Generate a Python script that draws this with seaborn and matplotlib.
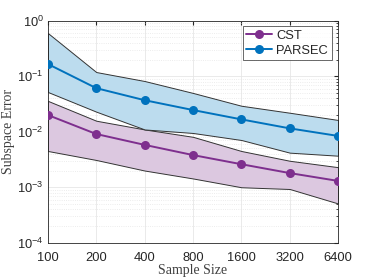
import matplotlib
matplotlib.use("Agg")
import matplotlib.pyplot as plt
import matplotlib.ticker as mticker
import seaborn as sns
import pandas as pd

# sample sizes
sizes = [100, 200, 400, 800, 1600, 3200, 6400]

# CST
cst_mean = [0.020, 0.0091, 0.0058, 0.0038, 0.0026, 0.0018, 0.0013]
cst_upper = [0.036, 0.0158, 0.011, 0.0081, 0.0045, 0.0030, 0.0023]
cst_lower = [0.0045, 0.0031, 0.0020, 0.00144, 0.0010, 0.00093, 0.00051]

# PARSEC
parsec_mean = [0.166, 0.061, 0.037, 0.0246, 0.0167, 0.0115, 0.0084]
parsec_upper = [0.60, 0.119, 0.082, 0.050, 0.0294, 0.022, 0.0163]
parsec_lower = [0.052, 0.023, 0.011, 0.0095, 0.0071, 0.0042, 0.0037]

xticklabels = ["100", "200", "400", "800", "1600", "3200", "6400"]

sns.set_style("white")
plt.rcParams["font.family"] = ["Liberation Sans", "DejaVu Sans"]
plt.rcParams["mathtext.fontset"] = "custom"
plt.rcParams["mathtext.rm"] = "Liberation Sans"

df = pd.DataFrame({
    "size": sizes * 2,
    "err": cst_mean + parsec_mean,
    "method": ["CST"] * 7 + ["PARSEC"] * 7,
})

purple = "#7E2F8E"
blue = "#0072BD"

fig = plt.figure(figsize=(3.74, 2.80), dpi=100)
ax = fig.add_axes([0.128, 0.133, 0.776, 0.793])

ax.set_xscale("log", base=2)
ax.set_yscale("log")

ax.fill_between(sizes, cst_lower, cst_upper, facecolor="#dcc8e0", edgecolor="#333333", linewidth=0.7, zorder=1)
ax.fill_between(sizes, parsec_lower, parsec_upper, facecolor="#bcdcee", edgecolor="#333333", linewidth=0.7, zorder=1)

sns.lineplot(data=df, x="size", y="err", hue="method", palette=[purple, blue],
             marker="o", markersize=6.5, markeredgewidth=0, linewidth=1.4, ax=ax, zorder=3)

ax.set_xlim(100, 6400)
ax.set_ylim(1e-4, 1)
ax.xaxis.set_major_locator(mticker.FixedLocator(sizes))
ax.xaxis.set_minor_locator(mticker.NullLocator())
ax.set_xticklabels(xticklabels)
ax.yaxis.set_major_locator(mticker.LogLocator(base=10, numticks=10))
ax.yaxis.set_minor_locator(mticker.LogLocator(base=10, subs=range(2, 10), numticks=20))
ax.yaxis.set_minor_formatter(mticker.NullFormatter())

ax.grid(True, which="major", color="#e6e6e6", linewidth=0.6, zorder=0)
ax.grid(True, which="minor", axis="y", color="#e6e6e6", linestyle=":", linewidth=0.6, zorder=0)
ax.set_axisbelow(True)

ax.tick_params(which="both", direction="in", top=True, right=True, labelsize=9.3, colors="#262626", length=3)
ax.tick_params(which="minor", length=1.8)
ax.tick_params(axis="x", pad=7)
ax.tick_params(axis="y", pad=3)
for s in ax.spines.values():
    s.set_color("#262626")
    s.set_linewidth(0.6)

ax.set_xlabel("Sample Size", family=["Liberation Serif", "DejaVu Serif"], fontsize=10, color="#404040",
              va="center")
ax.set_ylabel("Subspace Error", family=["Liberation Serif", "DejaVu Serif"], fontsize=10, color="#404040",
              va="center")
ax.xaxis.set_label_coords(0.5, -0.127)
ax.yaxis.set_label_coords(-0.135, 0.5)

leg = ax.legend(loc="upper right", fontsize=9.3, frameon=True, fancybox=False, edgecolor="#262626",
                handlelength=2.0, borderpad=0.3, labelspacing=0.2, handletextpad=0.3,
                borderaxespad=0, bbox_to_anchor=(0.978, 0.976))
leg.get_frame().set_linewidth(0.6)

fig.savefig("out.png", dpi=100)
